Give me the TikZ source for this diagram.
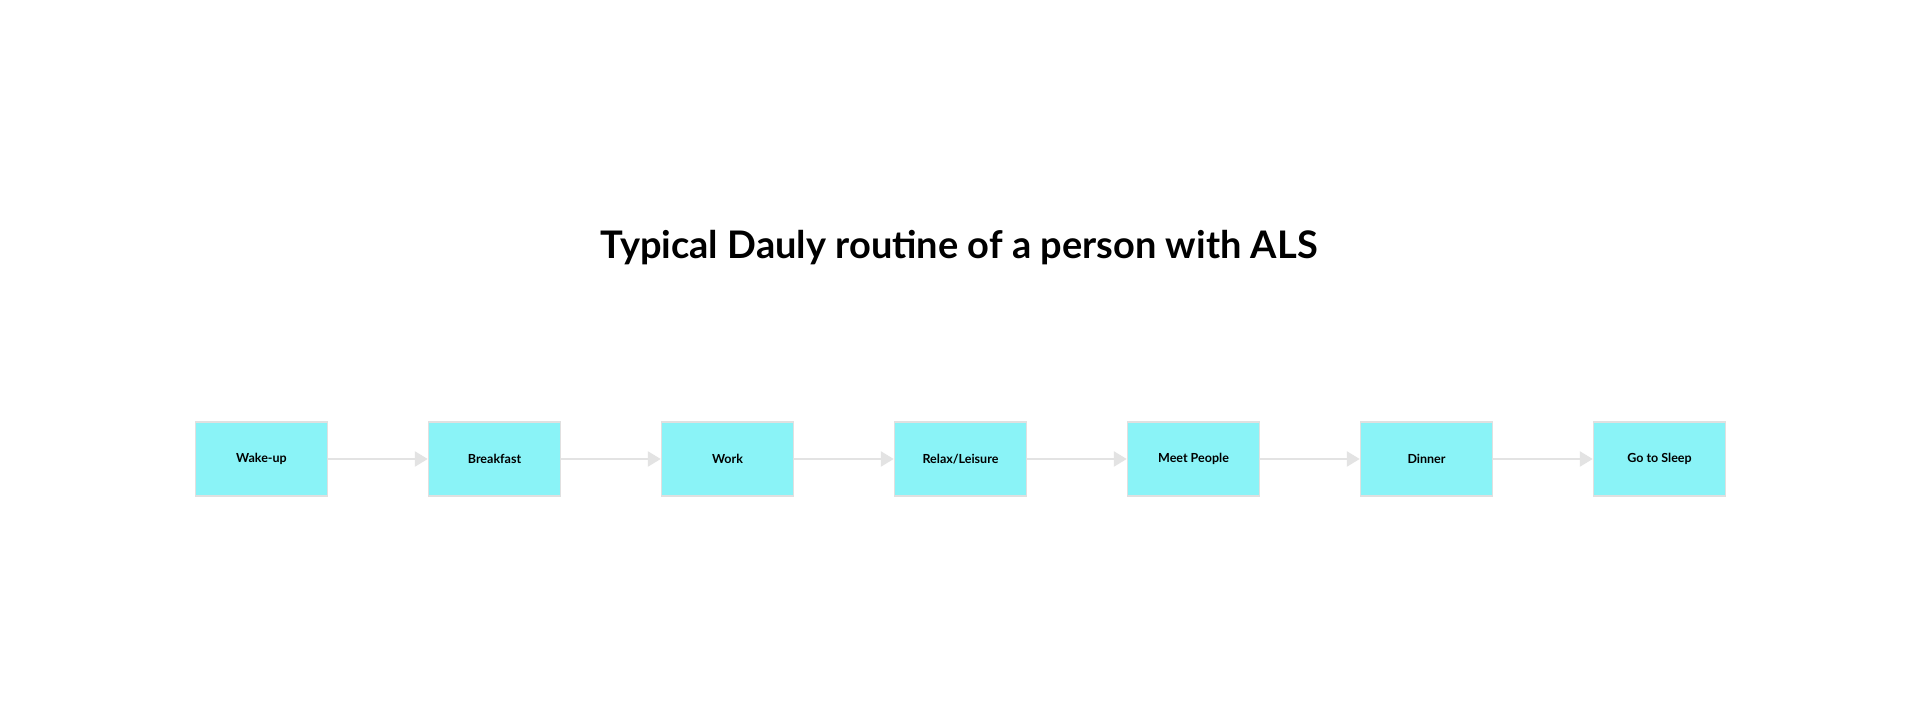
\documentclass[tikz,border=0pt]{standalone}
\usepackage{fontspec}
\setmainfont{Lato}
\usetikzlibrary{positioning,arrows.meta}
\definecolor{boxcyan}{RGB}{138,243,247}
\definecolor{edgegrey}{RGB}{224,224,224}
\definecolor{arrowgrey}{RGB}{227,227,227}
\tikzset{
  stepbox/.style={fill=boxcyan, draw=edgegrey, line width=1.5pt,
    minimum width=132pt, minimum height=74pt, inner sep=0pt,
    font=\fontsize{12.5}{15}\selectfont\bfseries},
  flowarrow/.style={draw=arrowgrey, line width=2.5pt,
    -{Triangle[length=13pt,width=15pt]}}
}

\begin{document}
\begin{tikzpicture}
      \useasboundingbox[fill=white] (0,0) rectangle (1920pt,720pt);
      \node[font=\fontsize{38}{44}\selectfont\bfseries]
        (title) at (959pt,472pt) {Typical Dauly routine of a person with ALS};
      % daily steps
      \node[stepbox] (wake) at (261.5pt,261pt) {Wake-up};
      \node[stepbox, right=99.5pt of wake] (breakfast) {Breakfast};
      \node[stepbox, right=99.5pt of breakfast] (work) {Work};
      \node[stepbox, right=99.5pt of work] (relax) {Relax/Leisure};
      \node[stepbox, right=99.5pt of relax] (meet) {Meet People};
      \node[stepbox, right=99.5pt of meet] (dinner) {Dinner};
      \node[stepbox, right=99.5pt of dinner] (sleep) {Go to Sleep};
      % connectors
      \draw[flowarrow] (wake) -- (breakfast);
      \draw[flowarrow] (breakfast) -- (work);
      \draw[flowarrow] (work) -- (relax);
      \draw[flowarrow] (relax) -- (meet);
      \draw[flowarrow] (meet) -- (dinner);
      \draw[flowarrow] (dinner) -- (sleep);
    \end{tikzpicture}
\end{document}
